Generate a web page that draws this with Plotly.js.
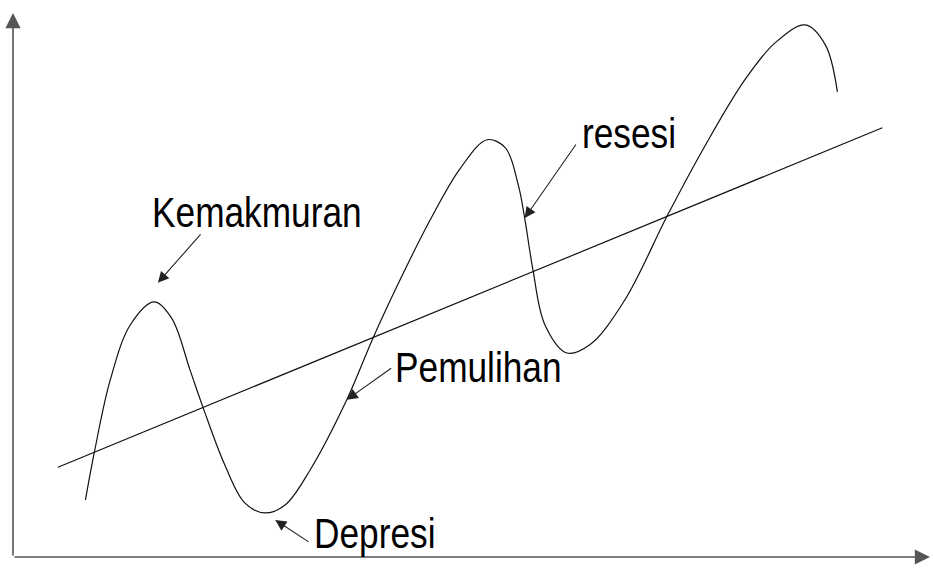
<!DOCTYPE html>
<html>
<head>
<meta charset="utf-8">
<script src="https://cdn.plot.ly/plotly-3.0.1.min.js"></script>
<style>
  html, body { margin: 0; padding: 0; background: #fff; }
  #chart { width: 933px; height: 580px; }
</style>
</head>
<body>
<div id="chart"></div>
<script>
// siklus bisnis : kurva gelombang
let siklusX = [7.9, 8.9, 10.6, 12.8, 15.4, 17.3, 19.3, 20.7, 23.1, 25.3, 27.5, 29.7, 32.4, 36.4, 39.3, 42.2, 45.5, 48.8, 51.7, 53.7, 55.1, 55.8, 56.7, 58.0, 60.4, 62.9, 66.7, 71.4, 75.5, 79.8, 83.1, 86.4, 88.6, 89.9];
let siklusY = [10.5, 19.5, 32.5, 42.7, 46.9, 43.9, 34.4, 27.6, 16.9, 9.9, 8.1, 9.6, 16.0, 28.9, 40.4, 50.9, 62.0, 71.5, 76.7, 75.2, 68.4, 62.3, 52.8, 42.7, 37.5, 39.0, 47.2, 62.9, 75.7, 87.7, 94.5, 97.8, 94.1, 85.5];

// garis tren
let trenX = [4.9, 94.8];
let trenY = [16.5, 78.9];

// label fase dan titik yang ditunjuk
let fase = ["Kemakmuran", "resesi", "Pemulihan", "Depresi"];
let labelX = [14.9, 61.8, 41.4, 32.6];
let labelY = [63.4, 77.9, 34.9, 4.4];
let panahDariX = [20.6, 61.5, 41.4, 32.4];
let panahDariY = [59.6, 76.1, 34.9, 2.6];
let panahKeX = [15.8, 55.8, 36.4, 28.6];
let panahKeY = [50.4, 62.3, 28.9, 6.8];

// huruf sempit (seperti Arial Narrow) : Liberation Sans dipersempit
let fontTeks = "'Liberation Sans', Arial, sans-serif";
let sempit = 0.82;

let data = [
    {x: siklusX, y: siklusY, mode: "lines", line: {color: "#111", width: 1.2, shape: "spline", smoothing: 1}, hoverinfo: "skip"},
    {x: trenX, y: trenY, mode: "lines", line: {color: "#111", width: 1.2}, hoverinfo: "skip"}
];

let annotations = [];
// sumbu dengan panah
annotations.push({x: 0, y: 100, ax: 0, ay: 0, xref: "x", yref: "y", axref: "x", ayref: "y",
    text: "", showarrow: true, arrowhead: 2, arrowsize: 1.9, arrowwidth: 1.6, arrowcolor: "#555"});
annotations.push({x: 100, y: 0, ax: 0, ay: 0, xref: "x", yref: "y", axref: "x", ayref: "y",
    text: "", showarrow: true, arrowhead: 2, arrowsize: 1.9, arrowwidth: 1.6, arrowcolor: "#555"});

for (let i = 0; i < fase.length; i++) {
    annotations.push({x: labelX[i], y: labelY[i], xref: "x", yref: "y", text: fase[i],
        showarrow: false, xanchor: "left", yanchor: "middle",
        font: {family: fontTeks, size: 43, color: "#000"}});
    annotations.push({x: panahKeX[i], y: panahKeY[i], ax: panahDariX[i], ay: panahDariY[i],
        xref: "x", yref: "y", axref: "x", ayref: "y", text: "", showarrow: true,
        arrowhead: 2, arrowsize: 2, arrowwidth: 1.1, arrowcolor: "#222"});
}

let layout = {
    width: 933, height: 580,
    margin: {l: 13, r: 3, t: 13, b: 23},
    paper_bgcolor: "#fff", plot_bgcolor: "#fff",
    showlegend: false,
    xaxis: {range: [0, 100], showgrid: false, zeroline: false, showticklabels: false, showline: false, fixedrange: true},
    yaxis: {range: [0, 100], showgrid: false, zeroline: false, showticklabels: false, showline: false, fixedrange: true},
    annotations: annotations
};

Plotly.newPlot("chart", data, layout, {displayModeBar: false, staticPlot: true}).then(function (gd) {
    // persempit teks label, tetap rata kiri
    gd.querySelectorAll("text.annotation-text").forEach(function (t) {
        if (!t.textContent) return;
        let b = t.getBBox();
        t.setAttribute("transform", `translate(${b.x},0) scale(${sempit},1) translate(${-b.x},0)`);
    });
});
</script>
</body>
</html>
